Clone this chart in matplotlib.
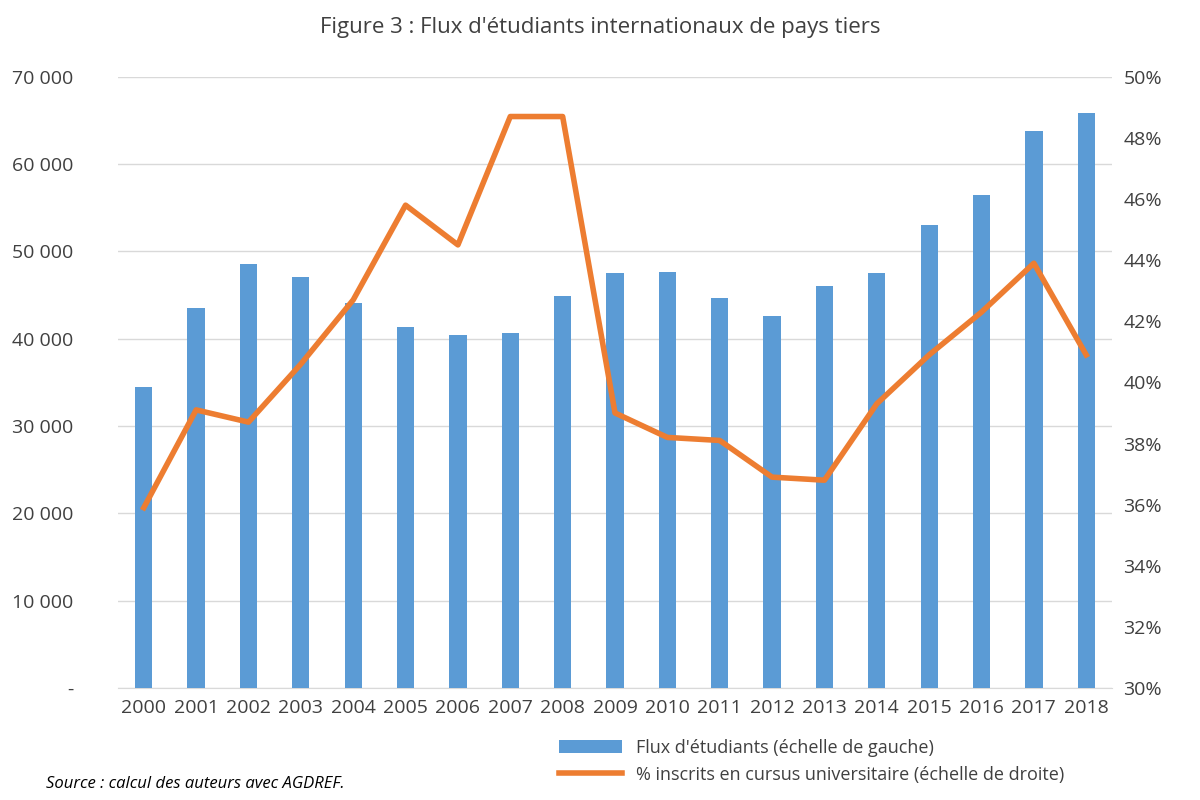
import matplotlib
matplotlib.use("Agg")
import matplotlib.pyplot as plt
from matplotlib.ticker import FuncFormatter

years = [str(y) for y in range(2000, 2019)]
flux = [34500, 43500, 48600, 47100, 44100, 41300, 40400, 40700, 44900, 47500,
        47600, 44700, 42600, 46000, 47500, 53000, 56500, 63800, 65800]
pct = [35.9, 39.1, 38.7, 40.6, 42.7, 45.8, 44.5, 48.7, 48.7, 39.0,
       38.2, 38.1, 36.9, 36.8, 39.3, 40.9, 42.3, 43.9, 40.9]

plt.rcParams['font.family'] = ['Open Sans', 'DejaVu Sans']
fig = plt.figure(figsize=(12, 8), dpi=100)
ax = fig.add_axes([0.098, 0.14, 0.829, 0.764])
ax2 = ax.twinx()
x = range(len(years))
b = ax.bar(x, flux, width=0.33, color='#5b9bd5', zorder=3, label="Flux d'étudiants (échelle de gauche)")
l, = ax2.plot(x, pct, color='#ed7d31', lw=4, zorder=4, label="% inscrits en cursus universitaire (échelle de droite)")
ax.set_ylim(0, 70000)
ax.set_yticks(range(0, 70001, 10000))
ax.yaxis.set_major_formatter(FuncFormatter(lambda v, p: '-' if v == 0 else f"{int(v):,}".replace(',', ' ')))
ax2.set_ylim(30, 50)
ax2.set_yticks(range(30, 51, 2))
ax2.yaxis.set_major_formatter(FuncFormatter(lambda v, p: f"{int(v)}%"))
ax.set_xlim(-0.5, len(years) - 0.5)
ax.set_xticks(list(x))
ax.set_xticklabels(years)
ax.grid(axis='y', color='#d9d9d9', lw=1, zorder=0)
for a in (ax, ax2):
    for s in a.spines.values():
        s.set_visible(False)
    a.tick_params(length=0, labelsize=14, colors='#404040', pad=8)
ax.spines['bottom'].set_visible(True)
ax.spines['bottom'].set_color('#d9d9d9')
ax.tick_params(axis='y', pad=32)
fig.text(0.5, 0.965, "Figure 3 : Flux d'étudiants internationaux de pays tiers", ha='center', va='center', fontsize=16, color='#404040')
fig.legend(handles=[b, l], loc='upper left', bbox_to_anchor=(0.458, 0.088), frameon=False, fontsize=13,
           labelcolor='#404040', handlelength=3.5, borderpad=0, labelspacing=0.5)
fig.text(0.038, 0.015, "Source : calcul des auteurs avec AGDREF.", style='italic', fontsize=12, color='black')
fig.savefig('out.png')
